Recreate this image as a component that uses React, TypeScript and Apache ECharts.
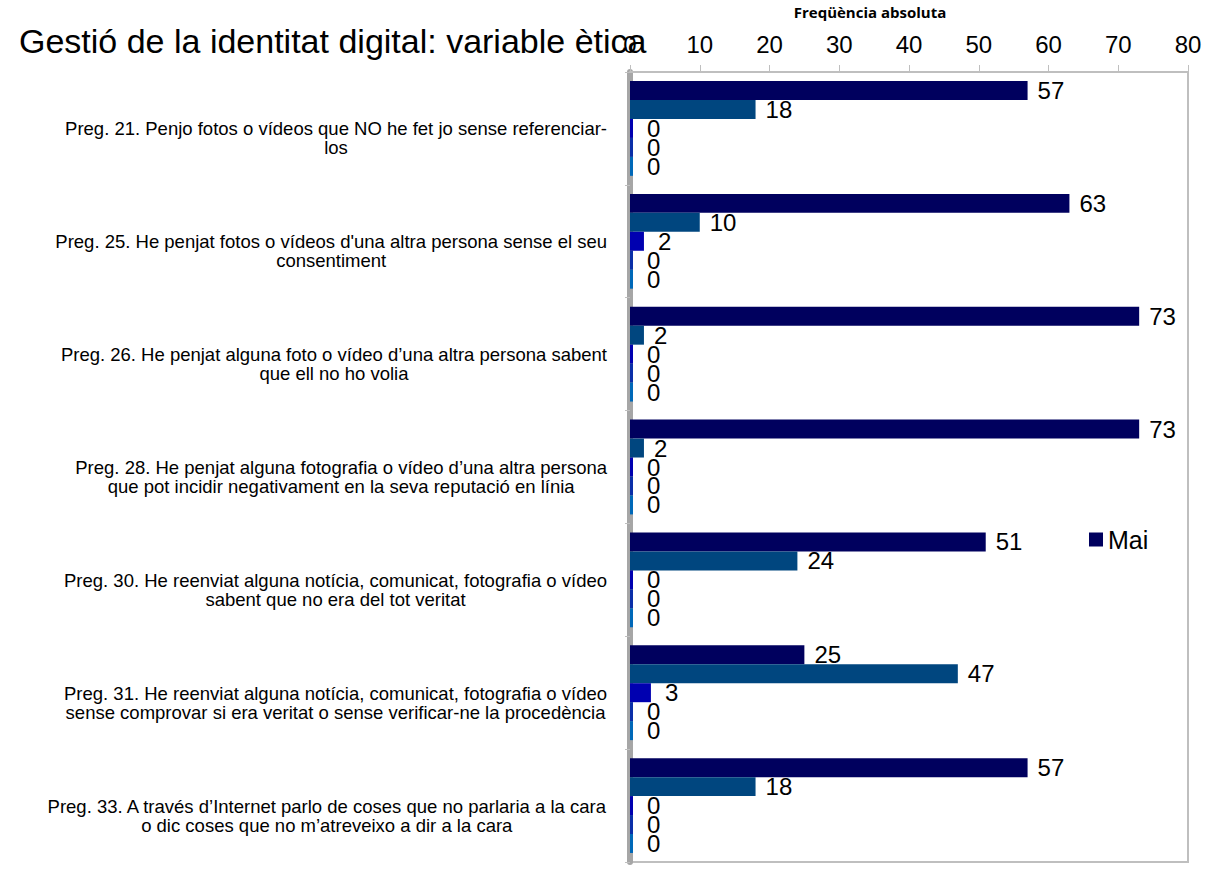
import React, { useEffect, useRef } from "react";
import * as echarts from "echarts";

const titleText = "Gestió de la identitat digital: variable ètica";
const axisName = "Freqüència absoluta";

const categories: string[][] = [
  ["Preg. 21. Penjo fotos o vídeos que NO he fet jo sense referenciar-", "los"],
  ["Preg. 25. He penjat fotos o vídeos d'una altra persona sense el seu", "consentiment"],
  ["Preg. 26. He penjat alguna foto o vídeo d’una altra persona sabent", "que ell no ho volia"],
  ["Preg. 28. He penjat alguna fotografia o vídeo d’una altra persona", "que pot incidir negativament en la seva reputació en línia"],
  ["Preg. 30. He reenviat alguna notícia, comunicat, fotografia o vídeo", "sabent que no era del tot veritat"],
  ["Preg. 31. He reenviat alguna notícia, comunicat, fotografia o vídeo", "sense comprovar si era veritat o sense verificar-ne la procedència"],
  ["Preg. 33. A través d’Internet parlo de coses que no parlaria a la cara", "o dic coses que no m’atreveixo a dir a la cara"],
];

const seriesNames = ["Mai", "Alguna vegada", "Sovint", "Molt sovint", "Sempre"];
const mai = [57, 63, 73, 73, 51, 25, 57];
const algunaVegada = [18, 10, 2, 2, 24, 47, 18];
const sovint = [0, 2, 0, 0, 0, 3, 0];
const moltSovint = [0, 0, 0, 0, 0, 0, 0];
const sempre = [0, 0, 0, 0, 0, 0, 0];
const xTicks = { min: 0, max: 80, interval: 10 };

const seriesValues = [mai, algunaVegada, sovint, moltSovint, sempre];
const seriesColors = ["#00005E", "#00467F", "#0000B0", "#0A2FA8", "#0068B8"];
const labelDistances = [10, 10, 14, 14, 14];

export default function App() {
  const ref = useRef<HTMLDivElement>(null);
  useEffect(() => {
    document.body.style.margin = "0";
    const chart = echarts.init(ref.current!, null, { renderer: "svg" });
    const font = "Arial, 'Liberation Sans', sans-serif";
    chart.setOption({
      animation: false,
      backgroundColor: "#ffffff",
      title: [
        {
          text: titleText,
          left: 19,
          top: 24,
          padding: 0,
          textStyle: { fontFamily: font, fontSize: 34, fontWeight: "normal", color: "#000" },
        },
        {
          text: axisName,
          left: 870,
          top: 4,
          padding: 0,
          textAlign: "center",
          textStyle: { fontFamily: "'Open Sans', sans-serif", fontSize: 15, fontWeight: "bold", color: "#000" },
        },
      ],
      legend: {
        data: ["Mai"],
        left: 1084,
        top: 522,
        icon: "rect",
        itemWidth: 14,
        itemHeight: 14,
        itemGap: 5,
        textStyle: { fontFamily: font, fontSize: 25, color: "#000" },
      },
      grid: {
        left: 630,
        right: 17,
        top: 72,
        bottom: 7,
        show: true,
        borderColor: "#BFBFBF",
        borderWidth: 2,
      },
      xAxis: {
        type: "value",
        position: "top",
        min: xTicks.min,
        max: xTicks.max,
        interval: xTicks.interval,
        axisLine: { show: true, lineStyle: { color: "#BFBFBF", width: 2 } },
        axisTick: { show: true, length: 7, lineStyle: { color: "#BFBFBF" } },
        axisLabel: { fontFamily: font, fontSize: 24, color: "#000", margin: 16 },
        splitLine: { show: false },
      },
      yAxis: {
        type: "category",
        inverse: true,
        offset: 5,
        data: categories.map((c) => c.join("\n")),
        axisLine: { show: true, lineStyle: { color: "#A6A6A6", width: 6 } },
        axisTick: { show: true, length: 5, lineStyle: { color: "#BFBFBF" } },
        axisLabel: {
          margin: 18,
          padding: [20, 0, 0, 0],
          formatter: (v: string) =>
            v
              .split("\n")
              .map((l) => `{c|${l}}`)
              .join("\n"),
          rich: {
            c: { align: "center", fontFamily: font, fontSize: 18.5, lineHeight: 19, color: "#000" },
          },
        },
      },
      series: seriesNames.map((name, i) => ({
        name,
        type: "bar",
        data: seriesValues[i],
        barGap: "0%",
        barCategoryGap: "16%",
        barMinHeight: 3,
        itemStyle: { color: seriesColors[i] },
        label: {
          show: true,
          position: "right",
          distance: labelDistances[i],
          fontFamily: font,
          fontSize: 24,
          color: "#000",
        },
      })),
    });
    return () => chart.dispose();
  }, []);
  return <div ref={ref} style={{ width: 1205, height: 869 }} />;
}
